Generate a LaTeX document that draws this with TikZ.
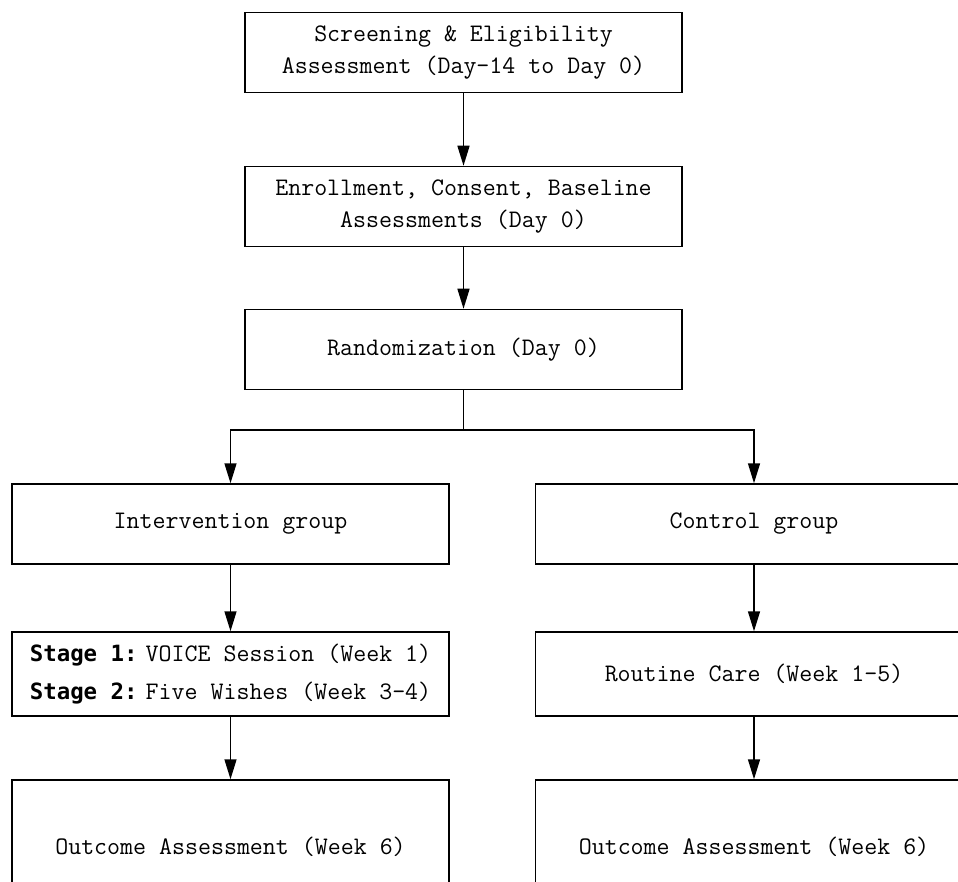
\documentclass[tikz,border=0pt]{standalone}
\usepackage{fontspec}
\usetikzlibrary{arrows.meta}
\newfontfamily\stagefont{DejaVu Sans Mono}

\begin{document}
\begin{tikzpicture}[
            x=0.5pt, y=-0.5pt,
            line width=0.75pt,
            >={Triangle[width=6pt,length=10pt]},
            box/.style={rectangle, draw, minimum width=218.5pt, minimum height=40pt,
                align=center, inner sep=0pt,
                font=\ttfamily\fontsize{12.6pt}{16pt}\selectfont},
            tall/.style={box, minimum height=42pt},
            last/.style={box, minimum height=67pt},
            every edge/.style={draw, ->}
        ]

        \useasboundingbox (0,0) rectangle (958,882);

        % Nodes
        \node[box] (scr) at (463.5,52.5) {Screening \& Eligibility\\Assessment (Day-14 to Day 0)};
        \node[box] (enr) at (463.5,206.5) {Enrollment, Consent, Baseline\\Assessments (Day 0)};
        \node[box] (rand) at (463.5,349.5) {Randomization (Day 0)};
        \node[box] (interv) at (230.5,524) {Intervention group};
        \node[box] (ctrl) at (754,524) {Control group};
        \node[tall, align=left] (stage) at (230.5,674)
            {{\stagefont\bfseries\fontsize{11.2pt}{16pt}\selectfont Stage 1:}\hspace{4pt}VOICE Session (Week 1)\\[3pt]
             {\stagefont\bfseries\fontsize{11.2pt}{16pt}\selectfont Stage 2:}\hspace{4pt}Five Wishes (Week 3-4)};
        \node[tall] (routine) at (754,674) {Routine Care (Week 1-5)};
        \node[last] (outL) at (230.5,847) {Outcome Assessment (Week 6)};
        \node[last] (outR) at (754,847) {Outcome Assessment (Week 6)};

        % Split point
        \coordinate (split) at (rand.south |- 0,430);

        % Edges
        \path
        (scr) edge (enr)
        (enr) edge (rand)
        (interv) edge (stage)
        (ctrl) edge (routine)
        (stage) edge (outL)
        (routine) edge (outR);
        \draw (rand.south) -- (split);
        \draw[->] (split) -| (interv.north);
        \draw[->] (split) -| (ctrl.north);

        \end{tikzpicture}
\end{document}
